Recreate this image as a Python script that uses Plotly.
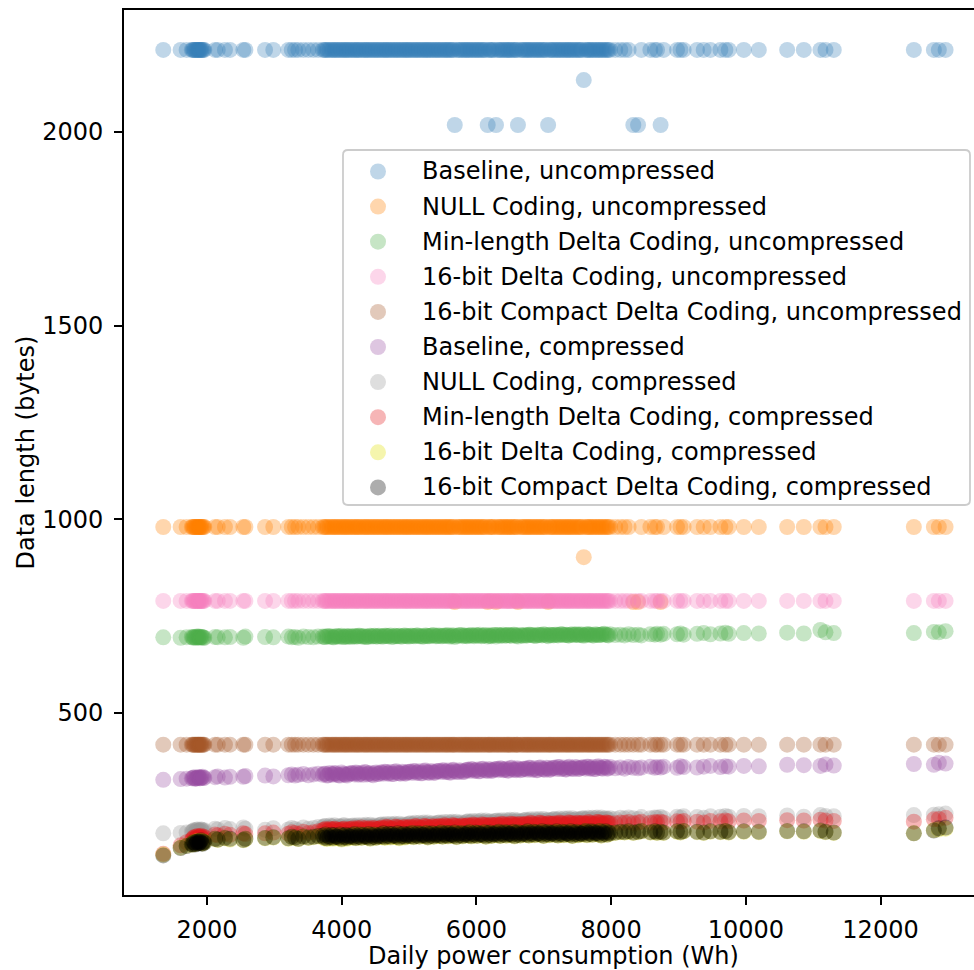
import plotly.graph_objects as go

# ---------------- data ----------------
# daily power consumption (Wh), in stretches
x_left = [1351, 1609, 1698, 1775, 1800, 1825, 1850, 1870, 1890, 1910, 1935, 1960, 2120, 2160,
          2267, 2342, 2540, 2570, 2862, 2985, 3208, 3259, 3308, 3357, 3431, 3505, 3580, 3650]
x_cluster = [1790, 1815, 1838, 1862, 1880, 1900, 1922, 1948]
x_mid = [3720, 3760, 3800, 3850, 3890, 3930, 3975, 4020, 4060, 4100,
         4145, 4190, 4230, 4270, 4320, 4360, 4400, 4445, 4490, 4530,
         4575, 4620, 4660, 4700, 4745, 4790, 4830, 4875, 4920, 4960,
         5000, 5045, 5090, 5130, 5175, 5220, 5260, 5300, 5345, 5390,
         5430, 5475, 5520, 5560, 5600, 5645, 5679, 5730, 5775, 5820,
         5860, 5900, 5945, 5990, 6030, 6075, 6120, 6168, 6200, 6245,
         6291, 6330, 6375, 6420, 6460, 6500, 6545, 6590, 6617, 6675,
         6720, 6760, 6800, 6845, 6890, 6930, 6975, 7020, 7065, 7100,
         7145, 7190, 7230, 7275, 7320, 7360, 7400, 7445, 7490, 7530,
         7594, 7620, 7660, 7700, 7745, 7790, 7830, 7875, 7920, 7960]
x_mid2 = [3740, 3781, 3824, 3869, 3911, 3953, 3997, 4041, 4079, 4122,
          4167, 4211, 4249, 4294, 4341, 4379, 4423, 4467, 4511, 4552,
          4597, 4641, 4679, 4723, 4768, 4811, 4853, 4897, 4941, 4979,
          5022, 5067, 5111, 5153, 5197, 5241, 5279, 5322, 5367, 5411,
          5452, 5497, 5541, 5579, 5622, 5661, 5705, 5752, 5797, 5841,
          5879, 5923, 5967, 6011, 6053, 6097, 6141, 6185, 6222, 6267,
          6311, 6353, 6397, 6441, 6479, 6523, 6567, 6605, 6651, 6697,
          6741, 6779, 6823, 6867, 6911, 6953, 6997, 7041, 7083, 7122,
          7167, 7211, 7253, 7297, 7341, 7379, 7423, 7467, 7511, 7553,
          7575, 7641, 7681, 7723, 7767, 7811, 7853, 7897, 7941, 7985]
x_right = [8062, 8137, 8200, 8260, 8330, 8400, 8450, 8583, 8650, 8682,
           8735, 8780, 8979, 9030, 9077, 9276, 9375, 9474, 9623, 9697,
           9747, 9970, 10193, 10614, 10861, 11108, 11183, 11306, 12495, 12792,
           12866, 12966]
power_wh = x_left + x_cluster + x_mid + x_mid2 + x_right

# data length (bytes) per series, in the same stretches
baseline_unc = (
    [2212, 2212, 2212, 2212, 2212, 2212, 2212, 2212, 2212, 2212, 2212, 2212, 2212, 2212,
     2212, 2212, 2212, 2212, 2212, 2212, 2212, 2212, 2212, 2212, 2212, 2212, 2212, 2212]
    + [2212, 2212, 2212, 2212, 2212, 2212, 2212, 2212]
    + [2212, 2212, 2212, 2212, 2212, 2212, 2212, 2212, 2212, 2212,
       2212, 2212, 2212, 2212, 2212, 2212, 2212, 2212, 2212, 2212,
       2212, 2212, 2212, 2212, 2212, 2212, 2212, 2212, 2212, 2212,
       2212, 2212, 2212, 2212, 2212, 2212, 2212, 2212, 2212, 2212,
       2212, 2212, 2212, 2212, 2212, 2212, 2018, 2212, 2212, 2212,
       2212, 2212, 2212, 2212, 2212, 2212, 2212, 2018, 2212, 2212,
       2018, 2212, 2212, 2212, 2212, 2212, 2212, 2212, 2018, 2212,
       2212, 2212, 2212, 2212, 2212, 2212, 2212, 2212, 2018, 2212,
       2212, 2212, 2212, 2212, 2212, 2212, 2212, 2212, 2212, 2212,
       2134, 2212, 2212, 2212, 2212, 2212, 2212, 2212, 2212, 2212]
    + [2212, 2212, 2212, 2212, 2212, 2212, 2212, 2212, 2212, 2212,
       2212, 2212, 2212, 2212, 2212, 2212, 2212, 2212, 2212, 2212,
       2212, 2212, 2212, 2212, 2212, 2212, 2212, 2212, 2212, 2212,
       2212, 2212, 2212, 2212, 2212, 2212, 2212, 2212, 2212, 2212,
       2212, 2212, 2212, 2212, 2212, 2212, 2212, 2212, 2212, 2212,
       2212, 2212, 2212, 2212, 2212, 2212, 2212, 2212, 2212, 2212,
       2212, 2212, 2212, 2212, 2212, 2212, 2212, 2212, 2212, 2212,
       2212, 2212, 2212, 2212, 2212, 2212, 2212, 2212, 2212, 2212,
       2212, 2212, 2212, 2212, 2212, 2212, 2212, 2212, 2212, 2212,
       2212, 2212, 2212, 2212, 2212, 2212, 2212, 2212, 2212, 2212]
    + [2212, 2212, 2212, 2212, 2018, 2018, 2212, 2212, 2212, 2212,
       2018, 2212, 2212, 2212, 2212, 2212, 2212, 2212, 2212, 2212,
       2212, 2212, 2212, 2212, 2212, 2212, 2212, 2212, 2212, 2212,
       2212, 2212])
null_unc = (
    [980, 980, 980, 980, 980, 980, 980, 980, 980, 980, 980, 980, 980, 980,
     980, 980, 980, 980, 980, 980, 980, 980, 980, 980, 980, 980, 980, 980]
    + [980, 980, 980, 980, 980, 980, 980, 980]
    + [980, 980, 980, 980, 980, 980, 980, 980, 980, 980,
       980, 980, 980, 980, 980, 980, 980, 980, 980, 980,
       980, 980, 980, 980, 980, 980, 980, 980, 980, 980,
       980, 980, 980, 980, 980, 980, 980, 980, 980, 980,
       980, 980, 980, 980, 980, 980, 786, 980, 980, 980,
       980, 980, 980, 980, 980, 980, 980, 786, 980, 980,
       786, 980, 980, 980, 980, 980, 980, 980, 786, 980,
       980, 980, 980, 980, 980, 980, 980, 980, 786, 980,
       980, 980, 980, 980, 980, 980, 980, 980, 980, 980,
       902, 980, 980, 980, 980, 980, 980, 980, 980, 980]
    + [980, 980, 980, 980, 980, 980, 980, 980, 980, 980,
       980, 980, 980, 980, 980, 980, 980, 980, 980, 980,
       980, 980, 980, 980, 980, 980, 980, 980, 980, 980,
       980, 980, 980, 980, 980, 980, 980, 980, 980, 980,
       980, 980, 980, 980, 980, 980, 980, 980, 980, 980,
       980, 980, 980, 980, 980, 980, 980, 980, 980, 980,
       980, 980, 980, 980, 980, 980, 980, 980, 980, 980,
       980, 980, 980, 980, 980, 980, 980, 980, 980, 980,
       980, 980, 980, 980, 980, 980, 980, 980, 980, 980,
       980, 980, 980, 980, 980, 980, 980, 980, 980, 980]
    + [980, 980, 980, 980, 786, 786, 980, 980, 980, 980,
       786, 980, 980, 980, 980, 980, 980, 980, 980, 980,
       980, 980, 980, 980, 980, 980, 980, 980, 980, 980,
       980, 980])
minlen_unc = (
    [695, 694, 695, 696, 694, 695, 697, 695, 694, 696, 695, 694, 696, 695,
     695, 696, 694, 697, 696, 695, 697, 695, 696, 694, 697, 696, 695, 697]
    + [695, 696, 694, 695, 697, 695, 696, 694]
    + [697, 696, 698, 697, 695, 698, 697, 696, 698, 697,
       696, 698, 697, 699, 697, 696, 698, 697, 699, 697,
       698, 697, 699, 698, 696, 699, 698, 697, 699, 698,
       697, 699, 698, 700, 698, 697, 699, 698, 700, 698,
       699, 698, 700, 699, 697, 700, 696, 699, 701, 699,
       698, 700, 699, 701, 699, 698, 700, 697, 699, 701,
       697, 701, 700, 699, 701, 700, 702, 699, 697, 700,
       701, 700, 702, 700, 699, 701, 700, 702, 698, 701,
       700, 702, 701, 703, 701, 700, 702, 701, 703, 701,
       699, 701, 703, 702, 700, 702, 701, 703, 702, 700]
    + [696, 698, 697, 695, 698, 697, 699, 696, 697, 698,
       698, 697, 699, 697, 698, 696, 699, 698, 697, 699,
       697, 699, 698, 700, 697, 698, 699, 697, 700, 698,
       699, 698, 700, 698, 697, 700, 698, 699, 701, 698,
       700, 698, 699, 701, 698, 700, 699, 701, 698, 700,
       699, 701, 698, 700, 702, 699, 701, 700, 698, 701,
       701, 699, 702, 700, 701, 699, 702, 700, 701, 699,
       700, 702, 701, 699, 702, 701, 703, 700, 702, 701,
       702, 700, 703, 701, 702, 700, 703, 702, 701, 703,
       701, 703, 702, 700, 703, 701, 702, 704, 701, 703]
    + [701, 702, 700, 703, 701, 702, 700, 703, 702, 704,
       702, 704, 703, 705, 702, 704, 706, 703, 705, 707,
       704, 706, 705, 707, 705, 714, 708, 706, 706, 709,
       708, 711])
delta16_unc = (
    [789, 789, 789, 789, 789, 789, 789, 789, 789, 789, 789, 789, 789, 789,
     789, 789, 789, 789, 789, 789, 789, 789, 789, 789, 789, 789, 789, 789]
    + [789, 789, 789, 789, 789, 789, 789, 789]
    + [789, 789, 789, 789, 789, 789, 789, 789, 789, 789,
       789, 789, 789, 789, 789, 789, 789, 789, 789, 789,
       789, 789, 789, 789, 789, 789, 789, 789, 789, 789,
       789, 789, 789, 789, 789, 789, 789, 789, 789, 789,
       789, 789, 789, 789, 789, 789, 789, 789, 789, 789,
       789, 789, 789, 789, 789, 789, 789, 789, 789, 789,
       789, 789, 789, 789, 789, 789, 789, 789, 789, 789,
       789, 789, 789, 789, 789, 789, 789, 789, 789, 789,
       789, 789, 789, 789, 789, 789, 789, 789, 789, 789,
       789, 789, 789, 789, 789, 789, 789, 789, 789, 789]
    + [789, 789, 789, 789, 789, 789, 789, 789, 789, 789,
       789, 789, 789, 789, 789, 789, 789, 789, 789, 789,
       789, 789, 789, 789, 789, 789, 789, 789, 789, 789,
       789, 789, 789, 789, 789, 789, 789, 789, 789, 789,
       789, 789, 789, 789, 789, 789, 789, 789, 789, 789,
       789, 789, 789, 789, 789, 789, 789, 789, 789, 789,
       789, 789, 789, 789, 789, 789, 789, 789, 789, 789,
       789, 789, 789, 789, 789, 789, 789, 789, 789, 789,
       789, 789, 789, 789, 789, 789, 789, 789, 789, 789,
       789, 789, 789, 789, 789, 789, 789, 789, 789, 789]
    + [789, 789, 789, 789, 789, 789, 789, 789, 789, 789,
       789, 789, 789, 789, 789, 789, 789, 789, 789, 789,
       789, 789, 789, 789, 789, 789, 789, 789, 789, 789,
       789, 789])
compact16_unc = (
    [418, 418, 418, 418, 418, 418, 418, 418, 418, 418, 418, 418, 418, 418,
     418, 418, 418, 418, 418, 418, 418, 418, 418, 418, 418, 418, 418, 418]
    + [418, 418, 418, 418, 418, 418, 418, 418]
    + [418, 418, 418, 418, 418, 418, 418, 418, 418, 418,
       418, 418, 418, 418, 418, 418, 418, 418, 418, 418,
       418, 418, 418, 418, 418, 418, 418, 418, 418, 418,
       418, 418, 418, 418, 418, 418, 418, 418, 418, 418,
       418, 418, 418, 418, 418, 418, 418, 418, 418, 418,
       418, 418, 418, 418, 418, 418, 418, 418, 418, 418,
       418, 418, 418, 418, 418, 418, 418, 418, 418, 418,
       418, 418, 418, 418, 418, 418, 418, 418, 418, 418,
       418, 418, 418, 418, 418, 418, 418, 418, 418, 418,
       418, 418, 418, 418, 418, 418, 418, 418, 418, 418]
    + [418, 418, 418, 418, 418, 418, 418, 418, 418, 418,
       418, 418, 418, 418, 418, 418, 418, 418, 418, 418,
       418, 418, 418, 418, 418, 418, 418, 418, 418, 418,
       418, 418, 418, 418, 418, 418, 418, 418, 418, 418,
       418, 418, 418, 418, 418, 418, 418, 418, 418, 418,
       418, 418, 418, 418, 418, 418, 418, 418, 418, 418,
       418, 418, 418, 418, 418, 418, 418, 418, 418, 418,
       418, 418, 418, 418, 418, 418, 418, 418, 418, 418,
       418, 418, 418, 418, 418, 418, 418, 418, 418, 418,
       418, 418, 418, 418, 418, 418, 418, 418, 418, 418]
    + [418, 418, 418, 418, 418, 418, 418, 418, 418, 418,
       418, 418, 418, 418, 418, 418, 418, 418, 418, 418,
       418, 418, 418, 418, 418, 418, 418, 418, 418, 418,
       418, 418])
baseline_cmp = (
    [327, 329, 330, 331, 333, 330, 332, 334, 331, 333, 335, 332, 334, 336,
     333, 335, 335, 337, 338, 336, 339, 341, 338, 340, 342, 339, 341, 343]
    + [331, 333, 330, 332, 334, 331, 333, 332]
    + [340, 343, 339, 342, 344, 341, 338, 343, 340, 342,
       344, 341, 345, 342, 340, 346, 343, 341, 344, 342,
       346, 343, 347, 344, 342, 348, 345, 343, 346, 344,
       348, 345, 349, 346, 344, 350, 347, 345, 348, 346,
       350, 347, 351, 348, 346, 352, 349, 347, 350, 348,
       353, 350, 354, 351, 349, 355, 352, 350, 353, 351,
       355, 352, 356, 353, 351, 357, 354, 352, 355, 353,
       356, 353, 358, 354, 352, 358, 355, 353, 357, 354,
       358, 355, 360, 356, 354, 359, 357, 355, 359, 356,
       359, 356, 361, 357, 355, 360, 358, 356, 360, 357]
    + [343, 338, 345, 340, 344, 339, 346, 341, 338, 344,
       344, 346, 340, 345, 347, 341, 345, 339, 346, 342,
       346, 348, 343, 347, 342, 349, 344, 348, 343, 347,
       348, 350, 345, 349, 344, 351, 346, 350, 345, 349,
       350, 352, 347, 351, 346, 353, 348, 352, 347, 351,
       353, 355, 350, 354, 349, 356, 351, 355, 350, 354,
       355, 357, 352, 356, 351, 358, 353, 357, 352, 356,
       356, 358, 353, 357, 352, 359, 354, 358, 353, 357,
       358, 360, 355, 359, 354, 361, 356, 360, 355, 359,
       359, 361, 356, 360, 355, 362, 357, 361, 356, 360]
    + [357, 359, 356, 360, 358, 357, 359, 361, 358, 360,
       359, 361, 358, 362, 360, 359, 361, 363, 360, 362,
       361, 363, 362, 366, 365, 363, 367, 364, 368, 366,
       371, 369])
null_cmp = (
    [189, 190, 191, 193, 196, 192, 198, 194, 195, 199, 193, 197, 201, 199,
     203, 200, 204, 201, 198, 202, 199, 203, 200, 197, 204, 201, 203, 205]
    + [193, 197, 195, 199, 194, 196, 198, 195]
    + [205, 208, 203, 207, 210, 204, 206, 209, 203, 207,
       208, 205, 210, 206, 204, 211, 207, 205, 209, 206,
       211, 208, 213, 209, 207, 214, 210, 208, 212, 209,
       214, 211, 216, 212, 210, 217, 213, 211, 215, 212,
       216, 213, 218, 214, 212, 219, 215, 213, 217, 214,
       219, 216, 221, 217, 215, 222, 218, 216, 220, 217,
       221, 218, 223, 219, 217, 224, 220, 218, 222, 219,
       223, 220, 225, 221, 219, 226, 222, 220, 224, 221,
       225, 222, 227, 223, 221, 228, 224, 222, 226, 223,
       227, 224, 229, 225, 223, 230, 226, 224, 228, 225]
    + [207, 204, 209, 206, 202, 208, 205, 210, 206, 204,
       209, 207, 204, 210, 208, 205, 211, 207, 206, 209,
       212, 210, 207, 213, 211, 208, 214, 210, 209, 212,
       215, 213, 210, 216, 214, 211, 217, 213, 212, 215,
       217, 215, 212, 218, 216, 213, 219, 215, 214, 217,
       220, 218, 215, 221, 219, 216, 222, 218, 217, 220,
       222, 220, 217, 223, 221, 218, 224, 220, 219, 222,
       224, 222, 219, 225, 223, 220, 226, 222, 221, 224,
       226, 224, 221, 227, 225, 222, 228, 224, 223, 226,
       228, 226, 223, 229, 227, 224, 230, 226, 225, 228]
    + [226, 229, 227, 230, 228, 226, 231, 228, 230, 229,
       231, 228, 232, 230, 233, 231, 229, 233, 232, 234,
       232, 234, 233, 235, 232, 236, 234, 233, 236, 237,
       238, 240])
minlen_cmp = (
    [136, 158, 166, 172, 178, 175, 181, 177, 180, 183, 176, 179, 186, 184,
     188, 185, 189, 187, 189, 191, 188, 192, 190, 187, 193, 190, 192, 194]
    + [174, 179, 176, 182, 178, 181, 177, 180]
    + [197, 200, 196, 199, 201, 197, 198, 200, 196, 199,
       200, 198, 203, 199, 197, 203, 201, 198, 202, 200,
       203, 201, 206, 202, 200, 206, 204, 201, 205, 203,
       205, 203, 208, 204, 202, 208, 206, 203, 207, 205,
       207, 205, 210, 206, 204, 210, 208, 205, 209, 207,
       209, 207, 212, 208, 206, 212, 210, 207, 211, 209,
       211, 209, 214, 210, 208, 214, 212, 209, 213, 211,
       213, 211, 216, 212, 210, 216, 214, 211, 215, 213,
       214, 212, 217, 213, 211, 217, 215, 212, 216, 214,
       215, 213, 218, 214, 212, 218, 216, 213, 217, 215]
    + [199, 197, 201, 198, 200, 196, 199, 201, 197, 200,
       202, 199, 201, 204, 200, 198, 202, 203, 199, 201,
       204, 202, 205, 203, 201, 206, 204, 202, 205, 203,
       206, 204, 207, 205, 203, 208, 206, 204, 207, 205,
       208, 206, 209, 207, 205, 210, 208, 206, 209, 207,
       210, 208, 211, 209, 207, 212, 210, 208, 211, 209,
       212, 210, 213, 211, 209, 214, 212, 210, 213, 211,
       214, 212, 215, 213, 211, 216, 214, 212, 215, 213,
       215, 213, 216, 214, 212, 217, 215, 213, 216, 214,
       216, 214, 217, 215, 213, 218, 216, 214, 217, 215]
    + [215, 217, 216, 218, 215, 217, 219, 216, 218, 217,
       219, 217, 220, 218, 221, 219, 217, 221, 220, 222,
       220, 222, 221, 223, 222, 224, 222, 221, 219, 225,
       226, 229])
delta16_cmp = (
    [134, 152, 157, 160, 165, 162, 168, 164, 166, 170, 163, 166, 174, 172,
     176, 173, 171, 174, 176, 178, 175, 179, 177, 174, 180, 177, 179, 181]
    + [161, 166, 163, 169, 165, 167, 164, 168]
    + [181, 184, 180, 183, 182, 179, 184, 181, 183, 180,
       183, 186, 182, 185, 184, 181, 186, 183, 185, 182,
       184, 187, 183, 186, 185, 182, 187, 184, 186, 183,
       186, 189, 185, 188, 187, 184, 189, 186, 188, 185,
       187, 190, 186, 189, 188, 185, 190, 187, 189, 186,
       188, 191, 187, 190, 189, 186, 191, 188, 190, 187,
       189, 192, 188, 191, 190, 187, 192, 189, 191, 188,
       190, 193, 189, 192, 191, 188, 193, 190, 192, 189,
       190, 193, 189, 192, 191, 188, 193, 190, 192, 189,
       191, 194, 190, 193, 192, 189, 194, 191, 193, 190]
    + [176, 174, 177, 175, 178, 176, 173, 177, 175, 178,
       178, 176, 179, 177, 180, 178, 175, 179, 177, 180,
       179, 177, 180, 178, 181, 179, 176, 180, 178, 181,
       181, 179, 182, 180, 183, 181, 178, 182, 180, 183,
       182, 180, 183, 181, 184, 182, 179, 183, 181, 184,
       183, 181, 184, 182, 185, 183, 180, 184, 182, 185,
       184, 182, 185, 183, 186, 184, 181, 185, 183, 186,
       185, 183, 186, 184, 187, 185, 182, 186, 184, 187,
       185, 183, 186, 184, 187, 185, 182, 186, 184, 187,
       186, 184, 187, 185, 188, 186, 183, 187, 185, 188]
    + [190, 192, 191, 193, 190, 192, 194, 191, 193, 190,
       192, 190, 193, 191, 194, 192, 190, 193, 192, 194,
       191, 193, 192, 194, 193, 195, 192, 190, 189, 197,
       199, 201])
compact16_cmp = (
    [132, 151, 156, 161, 166, 160, 167, 163, 168, 171, 162, 165, 175, 173,
     177, 175, 172, 175, 177, 179, 176, 180, 178, 175, 181, 178, 180, 182]
    + [160, 165, 162, 168, 164, 166, 163, 167]
    + [183, 186, 182, 185, 184, 181, 186, 183, 185, 182,
       184, 187, 183, 186, 185, 182, 187, 184, 186, 183,
       186, 189, 185, 188, 187, 184, 189, 186, 188, 185,
       187, 190, 186, 189, 188, 185, 190, 187, 189, 186,
       188, 191, 187, 190, 189, 186, 191, 188, 190, 187,
       189, 192, 188, 191, 190, 187, 192, 189, 191, 188,
       190, 193, 189, 192, 191, 188, 193, 190, 192, 189,
       191, 194, 190, 193, 192, 189, 194, 191, 193, 190,
       191, 194, 190, 193, 192, 189, 194, 191, 193, 190,
       192, 195, 191, 194, 193, 190, 195, 192, 194, 191]
    + [178, 176, 179, 177, 180, 178, 175, 179, 177, 180,
       179, 177, 180, 178, 181, 179, 176, 180, 178, 181,
       181, 179, 182, 180, 183, 181, 178, 182, 180, 183,
       182, 180, 183, 181, 184, 182, 179, 183, 181, 184,
       183, 181, 184, 182, 185, 183, 180, 184, 182, 185,
       184, 182, 185, 183, 186, 184, 181, 185, 183, 186,
       185, 183, 186, 184, 187, 185, 182, 186, 184, 187,
       186, 184, 187, 185, 188, 186, 183, 187, 185, 188,
       186, 184, 187, 185, 188, 186, 183, 187, 185, 188,
       187, 185, 188, 186, 189, 187, 184, 188, 186, 189]
    + [191, 193, 192, 194, 191, 193, 195, 192, 194, 191,
       193, 191, 194, 192, 195, 193, 191, 194, 193, 195,
       192, 194, 193, 195, 194, 196, 193, 191, 189, 196,
       202, 204])

series_names = [
    "Baseline, uncompressed",
    "NULL Coding, uncompressed",
    "Min-length Delta Coding, uncompressed",
    "16-bit Delta Coding, uncompressed",
    "16-bit Compact Delta Coding, uncompressed",
    "Baseline, compressed",
    "NULL Coding, compressed",
    "Min-length Delta Coding, compressed",
    "16-bit Delta Coding, compressed",
    "16-bit Compact Delta Coding, compressed",
]
series_values = [baseline_unc, null_unc, minlen_unc, delta16_unc, compact16_unc,
                 baseline_cmp, null_cmp, minlen_cmp, delta16_cmp, compact16_cmp]
series_colors = ["#377eb8", "#ff7f00", "#4daf4a", "#f781bf", "#a65628",
                 "#984ea3", "#999999", "#e41a1c", "#e0e000", "#000000"]

x_ticks = [2000, 4000, 6000, 8000, 10000, 12000]
y_ticks = [500, 1000, 1500, 2000]

for nm, vals in zip(series_names, series_values):
    if len(vals) != len(power_wh):
        raise ValueError(f"{nm}: {len(vals)} values vs {len(power_wh)} x")

# ---------------- figure ----------------
W, H = 974, 970
ML, MR, MT, MB = 124, 0, 10, 75
PW, PH = W - ML - MR, H - MT - MB
FONT = "DejaVu Sans"
FS = 24
ALPHA = 0.32


def px_x(px):
    return (px - ML) / PW


def px_y(py):
    return (H - MB - py) / PH


def rgba(hexc, a):
    h = hexc.lstrip("#")
    return f"rgba({int(h[0:2], 16)},{int(h[2:4], 16)},{int(h[4:6], 16)},{a})"


fig = go.Figure()
for nm, vals, col in zip(series_names, series_values, series_colors):
    fig.add_trace(go.Scatter(
        x=power_wh, y=vals, mode="markers", name=nm, showlegend=False,
        marker=dict(size=16, color=rgba(col, ALPHA), line=dict(width=0)),
    ))

axis_common = dict(
    showgrid=False, zeroline=False, showline=True, linecolor="black", linewidth=1.8,
    ticks="outside", ticklen=8, tickwidth=1.8, tickcolor="black",
    tickfont=dict(family=FONT, size=FS, color="black"), automargin=False,
)
fig.update_xaxes(range=[768, 13388], tickvals=x_ticks, ticktext=[str(v) for v in x_ticks],
                 mirror=True, ticklabelstandoff=4, **axis_common)
fig.update_yaxes(range=[29.7, 2315], tickvals=y_ticks, ticktext=[str(v) for v in y_ticks],
                 mirror=False, ticklabelstandoff=6, **axis_common)

shapes = []
# legend frame (rounded)
x0, x1 = px_x(343), px_x(970)
y0, y1 = px_y(505), px_y(150)
rx, ry = 5 / PW, 5 / PH
path = (f"M {x0+rx},{y0} L {x1-rx},{y0} Q {x1},{y0} {x1},{y0+ry} L {x1},{y1-ry} "
        f"Q {x1},{y1} {x1-rx},{y1} L {x0+rx},{y1} Q {x0},{y1} {x0},{y1-ry} "
        f"L {x0},{y0+ry} Q {x0},{y0} {x0+rx},{y0} Z")
shapes.append(dict(type="path", path=path, xref="paper", yref="paper", layer="above",
                   line=dict(color="#cccccc", width=1.8), fillcolor="rgba(255,255,255,0.85)"))
annotations = []
for i, (nm, col) in enumerate(zip(series_names, series_colors)):
    cy = 171.5 + 35.1 * i
    r = 8
    shapes.append(dict(type="circle", xref="paper", yref="paper", layer="above",
                       x0=px_x(378 - r), x1=px_x(378 + r), y0=px_y(cy + r), y1=px_y(cy - r),
                       fillcolor=rgba(col, ALPHA), line=dict(width=0)))
    annotations.append(dict(text=nm, xref="paper", yref="paper", x=px_x(420), y=px_y(cy),
                            xanchor="left", yanchor="middle", showarrow=False,
                            font=dict(family=FONT, size=FS, color="black")))

annotations.append(dict(text="Daily power consumption (Wh)", xref="paper", yref="paper",
                        x=px_x(553.5), y=px_y(956), xanchor="center", yanchor="middle",
                        showarrow=False, font=dict(family=FONT, size=FS, color="black")))
annotations.append(dict(text="Data length (bytes)", xref="paper", yref="paper",
                        x=px_x(25), y=px_y(452.5), xanchor="center", yanchor="middle",
                        textangle=-90, showarrow=False,
                        font=dict(family=FONT, size=FS, color="black")))

fig.update_layout(
    width=W, height=H, margin=dict(l=ML, r=MR, t=MT, b=MB, pad=0),
    paper_bgcolor="white", plot_bgcolor="white",
    font=dict(family=FONT, size=FS, color="black"),
    shapes=shapes, annotations=annotations, showlegend=False,
)

fig.write_html(
    "out.html",
    config={"displayModeBar": False},
    post_script="document.body.style.margin='0px';document.body.style.padding='0px';",
)
